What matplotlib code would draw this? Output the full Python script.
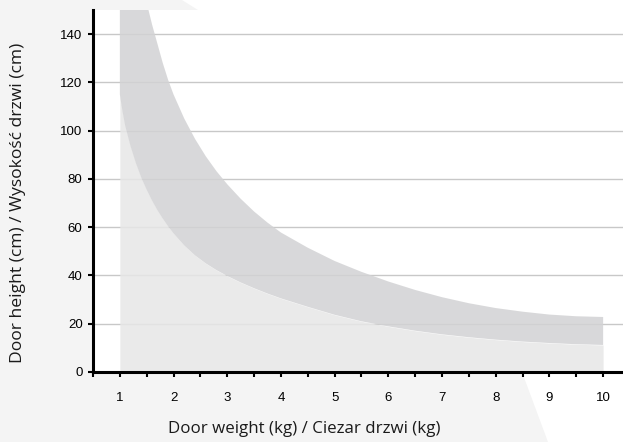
import matplotlib
matplotlib.use("Agg")
import matplotlib.pyplot as plt
from matplotlib.patches import Polygon

# ---- data ----
weight = [1.0, 1.05, 1.1, 1.2, 1.3, 1.4, 1.5, 1.6, 1.7, 1.8, 1.9, 2.0, 2.2,
          2.4, 2.6, 2.8, 3.0, 3.25, 3.5, 3.75, 4.0, 4.5, 5.0, 5.5, 6.0, 6.5,
          7.0, 7.5, 8.0, 8.5, 9.0, 9.5, 10.0]
height_min = [115, 108, 102, 93.5, 86.5, 80.5, 75.5, 71, 67, 63.5, 60.3, 57.4,
              52.4, 48.3, 45, 42.2, 39.8, 37.1, 34.7, 32.5, 30.5, 27, 23.7,
              21, 18.9, 17.1, 15.6, 14.4, 13.4, 12.6, 12, 11.5, 11.2]
height_max = [230, 215, 200, 185, 172, 162, 153, 144, 136, 128, 121, 115, 105,
              96.6, 89.4, 83.2, 77.8, 71.8, 66.5, 61.9, 57.8, 51.5, 46, 41.5,
              37.5, 34, 31, 28.5, 26.5, 25, 23.8, 23.1, 22.8]
x_ticks = [1, 2, 3, 4, 5, 6, 7, 8, 9, 10]
y_ticks = [0, 20, 40, 60, 80, 100, 120, 140]
x_label = "Door weight (kg) / Ciezar drzwi (kg)"
y_label = "Door height (cm) / Wysokość drzwi (cm)"

W, H = 623, 442
fig = plt.figure(figsize=(W / 100, H / 100), dpi=100)
fig.patch.set_facecolor("white")

# background decorative shape (figure pixel coords, y from top)
pts = [(0, 0), (182, 0), (198, 10), (522, 372), (548, 442), (0, 442)]
poly = Polygon([(x / W, 1 - y / H) for x, y in pts], closed=True,
               transform=fig.transFigure, facecolor="#f4f4f4",
               edgecolor="none", zorder=0)
fig.patches.append(poly)

ax = fig.add_axes([93 / W, 1 - 372 / H, (W - 93) / W, (372 - 10) / H])
ax.set_facecolor("white")
ax.set_zorder(1)

ax.set_xlim(0.5, 10.37)
ax.set_ylim(0, 150)

ax.yaxis.grid(True, color="#c8c8c8", linewidth=1.0, zorder=0)
ax.set_axisbelow(True)

ax.fill_between(weight, 0, height_min, color=(231 / 255, 231 / 255, 231 / 255),
                alpha=0.85, linewidth=0, zorder=1)
ax.fill_between(weight, height_min, height_max,
                color=(210 / 255, 210 / 255, 212 / 255),
                alpha=0.85, linewidth=0, zorder=1)

for s in ["top", "right"]:
    ax.spines[s].set_visible(False)
for s in ["left", "bottom"]:
    ax.spines[s].set_linewidth(2.2)
    ax.spines[s].set_color("black")

tick_font = dict(family=["Liberation Sans", "DejaVu Sans"], size=9.5)
ax.set_xticks(x_ticks)
ax.set_xticklabels([str(v) for v in x_ticks], **tick_font)
ax.set_xticks([v + 0.5 for v in range(0, 10)], minor=True)
ax.set_yticks(y_ticks)
ax.set_yticklabels([str(v) for v in y_ticks], **tick_font)
ax.tick_params(axis="x", which="both", direction="out", length=3.5, width=1.5,
               pad=11, colors="black")
ax.tick_params(axis="y", which="both", direction="out", length=3.5, width=1.5,
               pad=4, colors="black")

fig.text((168 + 441) / 2 / W, 1 - 429 / H, x_label, ha="center", va="center",
         color="#1a1a1a", family=["Open Sans", "DejaVu Sans"], size=12.2)
fig.text(18 / W, 1 - 203 / H, y_label, ha="center", va="center",
         rotation=90, color="#1a1a1a", family=["Open Sans", "DejaVu Sans"],
         size=12.6)

fig.savefig("out.png", dpi=100, facecolor=fig.get_facecolor())
